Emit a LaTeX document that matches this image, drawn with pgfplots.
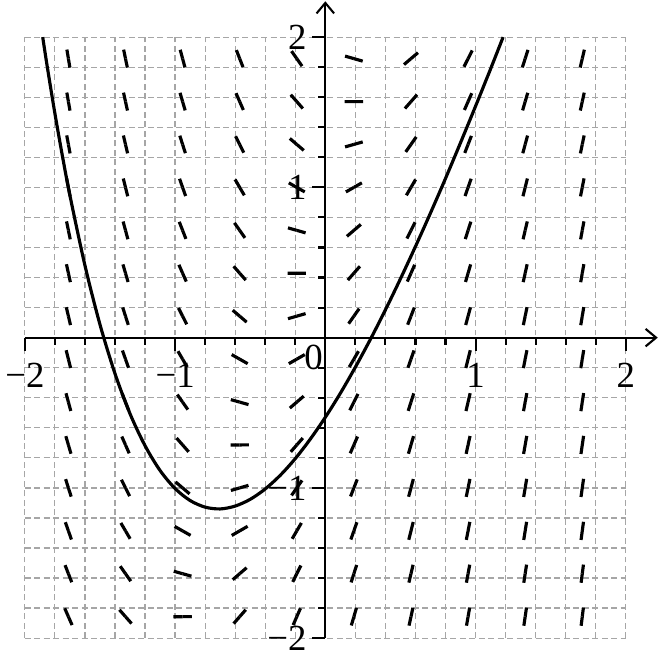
\documentclass[border=0pt]{standalone}
\usepackage{fontspec}
\setmainfont{Liberation Serif}
\usepackage{pgfplots}
\usepackage{pgfplotstable}
\pgfplotsset{compat=1.18}
\usetikzlibrary{arrows.meta}

% slope field of y' = 3x + 1 - y : centre (x,y) and slope s
\pgfplotstableread{
x y s
-1.71 -1.857 -2.273
-1.71 -1.571 -2.559
-1.71 -1.286 -2.844
-1.71 -1.000 -3.130
-1.71 -0.714 -3.416
-1.71 -0.429 -3.701
-1.71 -0.143 -3.987
-1.71 0.143 -4.273
-1.71 0.429 -4.559
-1.71 0.714 -4.844
-1.71 1.000 -5.130
-1.71 1.286 -5.416
-1.71 1.571 -5.701
-1.71 1.857 -5.987
-1.33 -1.857 -1.133
-1.33 -1.571 -1.419
-1.33 -1.286 -1.704
-1.33 -1.000 -1.990
-1.33 -0.714 -2.276
-1.33 -0.429 -2.561
-1.33 -0.143 -2.847
-1.33 0.143 -3.133
-1.33 0.429 -3.419
-1.33 0.714 -3.704
-1.33 1.000 -3.990
-1.33 1.286 -4.276
-1.33 1.571 -4.561
-1.33 1.857 -4.847
-0.95 -1.857 0.007
-0.95 -1.571 -0.279
-0.95 -1.286 -0.564
-0.95 -1.000 -0.850
-0.95 -0.714 -1.136
-0.95 -0.429 -1.421
-0.95 -0.143 -1.707
-0.95 0.143 -1.993
-0.95 0.429 -2.279
-0.95 0.714 -2.564
-0.95 1.000 -2.850
-0.95 1.286 -3.136
-0.95 1.571 -3.421
-0.95 1.857 -3.707
-0.57 -1.857 1.147
-0.57 -1.571 0.861
-0.57 -1.286 0.576
-0.57 -1.000 0.290
-0.57 -0.714 0.004
-0.57 -0.429 -0.281
-0.57 -0.143 -0.567
-0.57 0.143 -0.853
-0.57 0.429 -1.139
-0.57 0.714 -1.424
-0.57 1.000 -1.710
-0.57 1.286 -1.996
-0.57 1.571 -2.281
-0.57 1.857 -2.567
-0.19 -1.857 2.287
-0.19 -1.571 2.001
-0.19 -1.286 1.716
-0.19 -1.000 1.430
-0.19 -0.714 1.144
-0.19 -0.429 0.859
-0.19 -0.143 0.573
-0.19 0.143 0.287
-0.19 0.429 0.001
-0.19 0.714 -0.284
-0.19 1.000 -0.570
-0.19 1.286 -0.856
-0.19 1.571 -1.141
-0.19 1.857 -1.427
0.19 -1.857 3.427
0.19 -1.571 3.141
0.19 -1.286 2.856
0.19 -1.000 2.570
0.19 -0.714 2.284
0.19 -0.429 1.999
0.19 -0.143 1.713
0.19 0.143 1.427
0.19 0.429 1.141
0.19 0.714 0.856
0.19 1.000 0.570
0.19 1.286 0.284
0.19 1.571 -0.001
0.19 1.857 -0.287
0.57 -1.857 4.567
0.57 -1.571 4.281
0.57 -1.286 3.996
0.57 -1.000 3.710
0.57 -0.714 3.424
0.57 -0.429 3.139
0.57 -0.143 2.853
0.57 0.143 2.567
0.57 0.429 2.281
0.57 0.714 1.996
0.57 1.000 1.710
0.57 1.286 1.424
0.57 1.571 1.139
0.57 1.857 0.853
0.95 -1.857 5.707
0.95 -1.571 5.421
0.95 -1.286 5.136
0.95 -1.000 4.850
0.95 -0.714 4.564
0.95 -0.429 4.279
0.95 -0.143 3.993
0.95 0.143 3.707
0.95 0.429 3.421
0.95 0.714 3.136
0.95 1.000 2.850
0.95 1.286 2.564
0.95 1.571 2.279
0.95 1.857 1.993
1.33 -1.857 6.847
1.33 -1.571 6.561
1.33 -1.286 6.276
1.33 -1.000 5.990
1.33 -0.714 5.704
1.33 -0.429 5.419
1.33 -0.143 5.133
1.33 0.143 4.847
1.33 0.429 4.561
1.33 0.714 4.276
1.33 1.000 3.990
1.33 1.286 3.704
1.33 1.571 3.419
1.33 1.857 3.133
1.71 -1.857 7.987
1.71 -1.571 7.701
1.71 -1.286 7.416
1.71 -1.000 7.130
1.71 -0.714 6.844
1.71 -0.429 6.559
1.71 -0.143 6.273
1.71 0.143 5.987
1.71 0.429 5.701
1.71 0.714 5.416
1.71 1.000 5.130
1.71 1.286 4.844
1.71 1.571 4.559
1.71 1.857 4.273
}\slopes

% solution curve y = 3x - 2 + 1.47 e^{-x}
\pgfplotstableread{
x y
-1.881 2.000
-1.85 1.799
-1.80 1.493
-1.75 1.210
-1.70 0.947
-1.60 0.481
-1.50 0.088
-1.40 -0.239
-1.30 -0.506
-1.20 -0.719
-1.10 -0.884
-1.00 -1.004
-0.90 -1.084
-0.80 -1.128
-0.70 -1.140
-0.60 -1.121
-0.50 -1.076
-0.40 -1.007
-0.30 -0.916
-0.20 -0.805
-0.10 -0.675
0.00 -0.530
0.10 -0.370
0.20 -0.196
0.30 -0.011
0.40 0.185
0.50 0.392
0.60 0.607
0.70 0.830
0.80 1.060
0.90 1.298
1.00 1.541
1.10 1.789
1.183 2.000
}\curve

\begin{document}
\begin{tikzpicture}
\begin{axis}[
    x=1.5075cm, y=1.5075cm,
    xmin=-2, xmax=2, ymin=-2, ymax=2,
    axis lines=middle,
    clip=false,
    xtick={-2,-1,1,2}, xticklabels={−2,−1,1,2},
    ytick={-2,-1,1,2}, yticklabels={−2,−1,1,2},
    minor xtick={-1.8,-1.6,-1.4,-1.2,-0.8,-0.6,-0.4,-0.2,0,0.2,0.4,0.6,0.8,1.2,1.4,1.6,1.8},
    minor ytick={-1.8,-1.6,-1.4,-1.2,-0.8,-0.6,-0.4,-0.2,0,0.2,0.4,0.6,0.8,1.2,1.4,1.6,1.8},
    grid=both,
    major grid style={gray!70, line width=0.35pt, dash pattern=on 1.7pt off 1pt},
    minor grid style={gray!70, line width=0.35pt, dash pattern=on 1.7pt off 1pt},
    tick align=outside,
    major tick length=0.13cm,
    minor tick length=0.07cm,
    tick style={black, line width=0.6pt},
    ticklabel style={font=\fontsize{10.5}{12}\selectfont, inner sep=1.5pt},
    xticklabel style={yshift=-2pt},
    axis line style={line width=0.6pt},
    every inner x axis line/.append style={-{Straight Barb[length=3pt,width=5pt]}, shorten >=-0.32cm},
    every inner y axis line/.append style={-{Straight Barb[length=3pt,width=5pt]}, shorten >=-0.36cm},
]
\addplot[black, line width=0.9pt, quiver={
    u={0.061/sqrt(1+\thisrow{s}*\thisrow{s})},
    v={0.061*\thisrow{s}/sqrt(1+\thisrow{s}*\thisrow{s})}}] table[x=x, y=y] {\slopes};
\addplot[black, line width=0.9pt, quiver={
    u={-0.061/sqrt(1+\thisrow{s}*\thisrow{s})},
    v={-0.061*\thisrow{s}/sqrt(1+\thisrow{s}*\thisrow{s})}}] table[x=x, y=y] {\slopes};
\addplot[black, line width=0.9pt, smooth] table[x=x, y=y] {\curve};
\node[anchor=north east, inner sep=0.5pt, yshift=-1.5pt, font=\fontsize{10.5}{12}\selectfont] at (axis cs:0,0) {0};
\path (axis cs:2.21,0) (axis cs:0,2.245);
\end{axis}
\end{tikzpicture}
\end{document}
